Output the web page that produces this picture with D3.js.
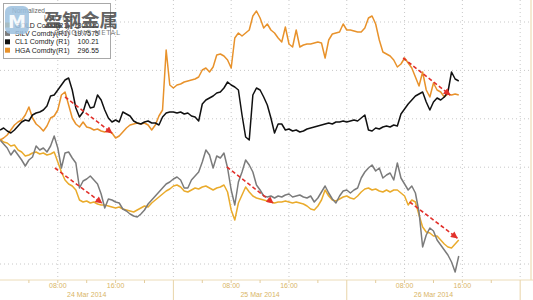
<!DOCTYPE html>
<html>
<head>
<meta charset="utf-8">
<script src="https://cdn.jsdelivr.net/npm/d3@7"></script>
<style>
  body { margin: 0; background: #fff; }
  svg { display: block; }
</style>
</head>
<body>
<div id="chart"></div>
<script>
// ----------------------------
// DATA (normalized, half-hour samples)
// ----------------------------
const start = new Date(2014, 2, 24, 0, 0);
const hours = d3.range(0, 64, 0.5);

const hga = [
  124,126,129,134,139,142,144,149,157,146,
  140,137,133,138,146,148,154,169,172,159,
  146,140,137,142,137,136,134,135,133,132,
  133,131,126,128,132,136,139,140,141,140,
  141,139,134,139,148,154,214,179,176,179,
  180,182,183,184,185,187,194,196,192,197,
  209,210,208,204,196,226,231,228,231,234,
  248,253,246,236,240,234,231,226,222,237,
  220,217,234,217,219,220,220,221,222,221,
  206,224,230,231,232,240,234,234,233,232,
  232,236,246,248,240,224,212,210,208,204,
  197,200,206,201,196,187,178,192,174,167,
  181,174,172,167,170,169,170,169
];

const cl1 = [
  134,136,133,131,134,138,142,144,143,149,
  151,152,154,158,168,169,174,179,184,186,
  174,156,147,152,164,156,157,169,164,154,
  146,142,144,142,152,150,148,143,141,140,
  142,143,141,141,139,147,151,152,152,151,
  152,150,151,148,147,143,160,164,166,168,
  171,172,176,182,179,177,174,149,127,124,
  169,176,174,167,159,146,131,140,140,134,
  135,133,134,132,133,135,136,137,138,139,
  140,141,140,142,142,143,142,143,144,143,
  146,149,134,133,136,135,137,138,137,139,
  138,150,155,160,164,168,170,172,162,154,
  162,166,164,167,172,192,185,183
];

const silv = [
  124,120,116,109,114,109,104,98,104,107,
  118,114,116,112,118,128,116,96,111,112,
  106,101,76,83,85,88,84,80,70,56,
  65,64,62,61,55,53,50,48,47,50,
  54,60,64,68,72,76,80,82,85,87,
  84,76,76,84,88,92,102,114,109,96,
  108,106,111,96,74,59,82,92,104,99,
  92,79,74,68,67,68,66,68,67,69,
  70,67,68,69,67,66,68,62,66,72,
  78,71,65,61,68,73,74,71,74,76,
  86,92,96,99,93,96,86,89,91,84,
  101,86,80,74,78,71,52,17,29,36,
  33,24,19,14,9,2,-8,8
];

const gold = [
  125,122,121,118,119,114,112,108,109,111,
  112,110,111,109,110,112,102,92,84,80,
  78,74,64,62,63,61,62,60,59,59,
  58,57,56,57,55,54,53,52,54,56,
  58,57,61,64,67,70,73,75,78,79,
  77,73,72,74,76,75,77,78,76,74,
  76,77,79,72,54,44,61,69,77,72,
  68,66,65,64,63,62,61,62,62,63,
  62,61,62,61,60,58,55,54,58,64,
  74,68,64,63,65,67,68,66,65,68,
  72,75,76,74,75,73,72,74,72,74,
  74,71,68,59,64,62,49,37,32,31,
  28,28,24,20,17,16,20,24
];

const gridValues = [0, 48.4, 96.8, 145.2, 193.6, 242];

// red trend arrows: [hour0, value0, hour1, value1]
const arrows = [
  [9.0, 167, 15.5, 131],
  [7.6, 96, 14.1, 61],
  [31.4, 97, 37.8, 61],
  [55.8, 206, 62.3, 169],
  [56.7, 62, 63.3, 26]
];

const legendRows = [
  { name: "GOLD Comdty", src: "(R1)", last: "1307.10", color: "#e9ab2e" },
  { name: "SILV Comdty", src: "(R1)", last: "19.7575", color: "#7b7b7b" },
  { name: "CL1 Comdty",  src: "(R1)", last: "100.21",  color: "#111111" },
  { name: "HGA Comdty",  src: "(R1)", last: "296.55",  color: "#e8922b" }
];

// ----------------------------
// SETUP
// ----------------------------
const width = 533, height = 300;
const hourMs = 3600 * 1000;
const t = h => new Date(start.getTime() + h * hourMs);

const svg = d3.select("#chart").append("svg")
  .attr("width", width)
  .attr("height", height);

const x = d3.scaleTime()
  .domain([start, t(73.5)])
  .range([0, 531]);

const y = d3.scaleLinear()
  .domain([0, 242])
  .range([264, 22]);

// ----------------------------
// GRID
// ----------------------------
svg.append("g")
  .selectAll("line")
  .data(gridValues)
  .join("line")
  .attr("x1", 0).attr("x2", 531)
  .attr("y1", d => y(d)).attr("y2", d => y(d))
  .attr("stroke", "#c8c8c8")
  .attr("stroke-dasharray", "1,3");

svg.append("g")
  .selectAll("line")
  .data(d3.range(8, 73, 8))
  .join("line")
  .attr("x1", d => x(t(d))).attr("x2", d => x(t(d)))
  .attr("y1", 0).attr("y2", 280)
  .attr("stroke", "#c8c8c8")
  .attr("stroke-dasharray", "1,3");

// right frame
svg.append("line")
  .attr("x1", 531).attr("x2", 531)
  .attr("y1", 0).attr("y2", 280)
  .attr("stroke", "#ead3a4");

// ----------------------------
// X AXIS
// ----------------------------
const axisColor = "#d9b566";
svg.append("line")
  .attr("x1", 0).attr("x2", width)
  .attr("y1", 280).attr("y2", 280)
  .attr("stroke", "#ecdcb8");

svg.append("g")
  .selectAll("line")
  .data(d3.range(4, 72, 4).filter(h => h % 24 !== 0))
  .join("line")
  .attr("x1", d => x(t(d))).attr("x2", d => x(t(d)))
  .attr("y1", 280).attr("y2", 283)
  .attr("stroke", "#e3cc9c");

svg.append("g")
  .selectAll("line")
  .data([24, 48, 72])
  .join("line")
  .attr("x1", d => x(t(d))).attr("x2", d => x(t(d)))
  .attr("y1", 280).attr("y2", 300)
  .attr("stroke", "#e8d4a8");

const timeFmt = d3.timeFormat("%H:%M");
const dateFmt = d3.timeFormat("%d %b %Y");

svg.append("g")
  .selectAll("text")
  .data([8, 16, 32, 40, 56, 64])
  .join("text")
  .attr("x", d => x(t(d)))
  .attr("y", 288)
  .attr("text-anchor", "middle")
  .attr("font-family", "Liberation Sans, Arial, sans-serif")
  .attr("font-size", 7)
  .attr("fill", axisColor)
  .text(d => timeFmt(t(d)));

svg.append("g")
  .selectAll("text")
  .data([12, 36, 60])
  .join("text")
  .attr("x", d => x(t(d)))
  .attr("y", 297)
  .attr("text-anchor", "middle")
  .attr("font-family", "Liberation Sans, Arial, sans-serif")
  .attr("font-size", 7)
  .attr("fill", axisColor)
  .text(d => dateFmt(t(d)));

// ----------------------------
// LINES
// ----------------------------
const line = d3.line()
  .x((d, i) => x(t(hours[i])))
  .y(d => y(d));

const series = [
  { values: gold, color: "#eaab2c" },
  { values: silv, color: "#7b7b7b" },
  { values: hga,  color: "#e8922b" },
  { values: cl1,  color: "#111111" }
];

svg.append("g")
  .selectAll("path")
  .data(series)
  .join("path")
  .attr("fill", "none")
  .attr("stroke", d => d.color)
  .attr("stroke-width", 1.5)
  .attr("stroke-linejoin", "round")
  .attr("d", d => line(d.values));

// ----------------------------
// ARROWS
// ----------------------------
svg.append("defs").append("marker")
  .attr("id", "arrowhead")
  .attr("viewBox", "0 0 10 10")
  .attr("refX", 9).attr("refY", 5)
  .attr("markerUnits", "userSpaceOnUse")
  .attr("markerWidth", 8).attr("markerHeight", 7)
  .attr("orient", "auto")
  .append("path")
  .attr("d", "M0,0L10,5L0,10z")
  .attr("fill", "#e2302a");

svg.append("g")
  .selectAll("line")
  .data(arrows)
  .join("line")
  .attr("x1", d => x(t(d[0]))).attr("y1", d => y(d[1]))
  .attr("x2", d => x(t(d[2]))).attr("y2", d => y(d[3]))
  .attr("stroke", "#e2302a")
  .attr("stroke-width", 1.6)
  .attr("stroke-dasharray", "4,2.5")
  .attr("marker-end", "url(#arrowhead)");

// ----------------------------
// LEGEND
// ----------------------------
const legend = svg.append("g");

legend.append("rect")
  .attr("x", 3.5).attr("y", 3.5)
  .attr("width", 107).attr("height", 55)
  .attr("fill", "#fff")
  .attr("stroke", "#a8a8a8");

legend.append("text")
  .attr("x", 12).attr("y", 13)
  .attr("font-family", "Liberation Sans, Arial, sans-serif")
  .attr("font-size", 6.5)
  .attr("fill", "#666")
  .text("Normalized");

legend.append("text")
  .attr("x", 44).attr("y", 20)
  .attr("font-family", "Liberation Sans, Arial, sans-serif")
  .attr("font-size", 6.5)
  .attr("fill", "#666")
  .text("Last Price");

const rows = legend.selectAll(".row")
  .data(legendRows)
  .join("g")
  .attr("class", "row")
  .attr("transform", (_, i) => `translate(0, ${25 + i * 8.4})`);

rows.append("rect")
  .attr("x", 5).attr("y", -2.5)
  .attr("width", 5).attr("height", 5)
  .attr("fill", d => d.color);

rows.append("text")
  .attr("x", 15).attr("y", 2.5)
  .attr("font-family", "Liberation Sans, Arial, sans-serif")
  .attr("font-size", 7)
  .attr("fill", "#222")
  .text(d => d.name);

rows.append("text")
  .attr("x", 56).attr("y", 2.5)
  .attr("font-family", "Liberation Sans, Arial, sans-serif")
  .attr("font-size", 7)
  .attr("fill", "#222")
  .text(d => d.src);

rows.append("text")
  .attr("x", 99).attr("y", 2.5)
  .attr("text-anchor", "end")
  .attr("font-family", "Liberation Sans, Arial, sans-serif")
  .attr("font-size", 7)
  .attr("fill", "#222")
  .text(d => d.last);

// ----------------------------
// WATERMARK
// ----------------------------
const mark = svg.append("g").attr("opacity", 0.85);

mark.append("rect")
  .attr("x", 5).attr("y", 6)
  .attr("width", 24).attr("height", 28)
  .attr("rx", 6)
  .attr("fill", "#9cc0df");

mark.append("text")
  .attr("x", 17).attr("y", 28)
  .attr("text-anchor", "middle")
  .attr("font-family", "DejaVu Sans, sans-serif")
  .attr("font-weight", "bold")
  .attr("font-size", 18)
  .attr("fill", "#f4f8fc")
  .text("M");

mark.append("text")
  .attr("x", 44).attr("y", 27)
  .attr("font-family", "Noto Sans CJK SC, sans-serif")
  .attr("font-weight", "bold")
  .attr("font-size", 18.5)
  .attr("fill", "#4a4a4a")
  .text("盈钢金属");

mark.append("text")
  .attr("x", 54).attr("y", 35)
  .attr("font-family", "DejaVu Sans, sans-serif")
  .attr("font-size", 7)
  .attr("letter-spacing", 0.6)
  .attr("fill", "#6a6a6a")
  .text("GANGING METAL");
</script>
</body>
</html>
